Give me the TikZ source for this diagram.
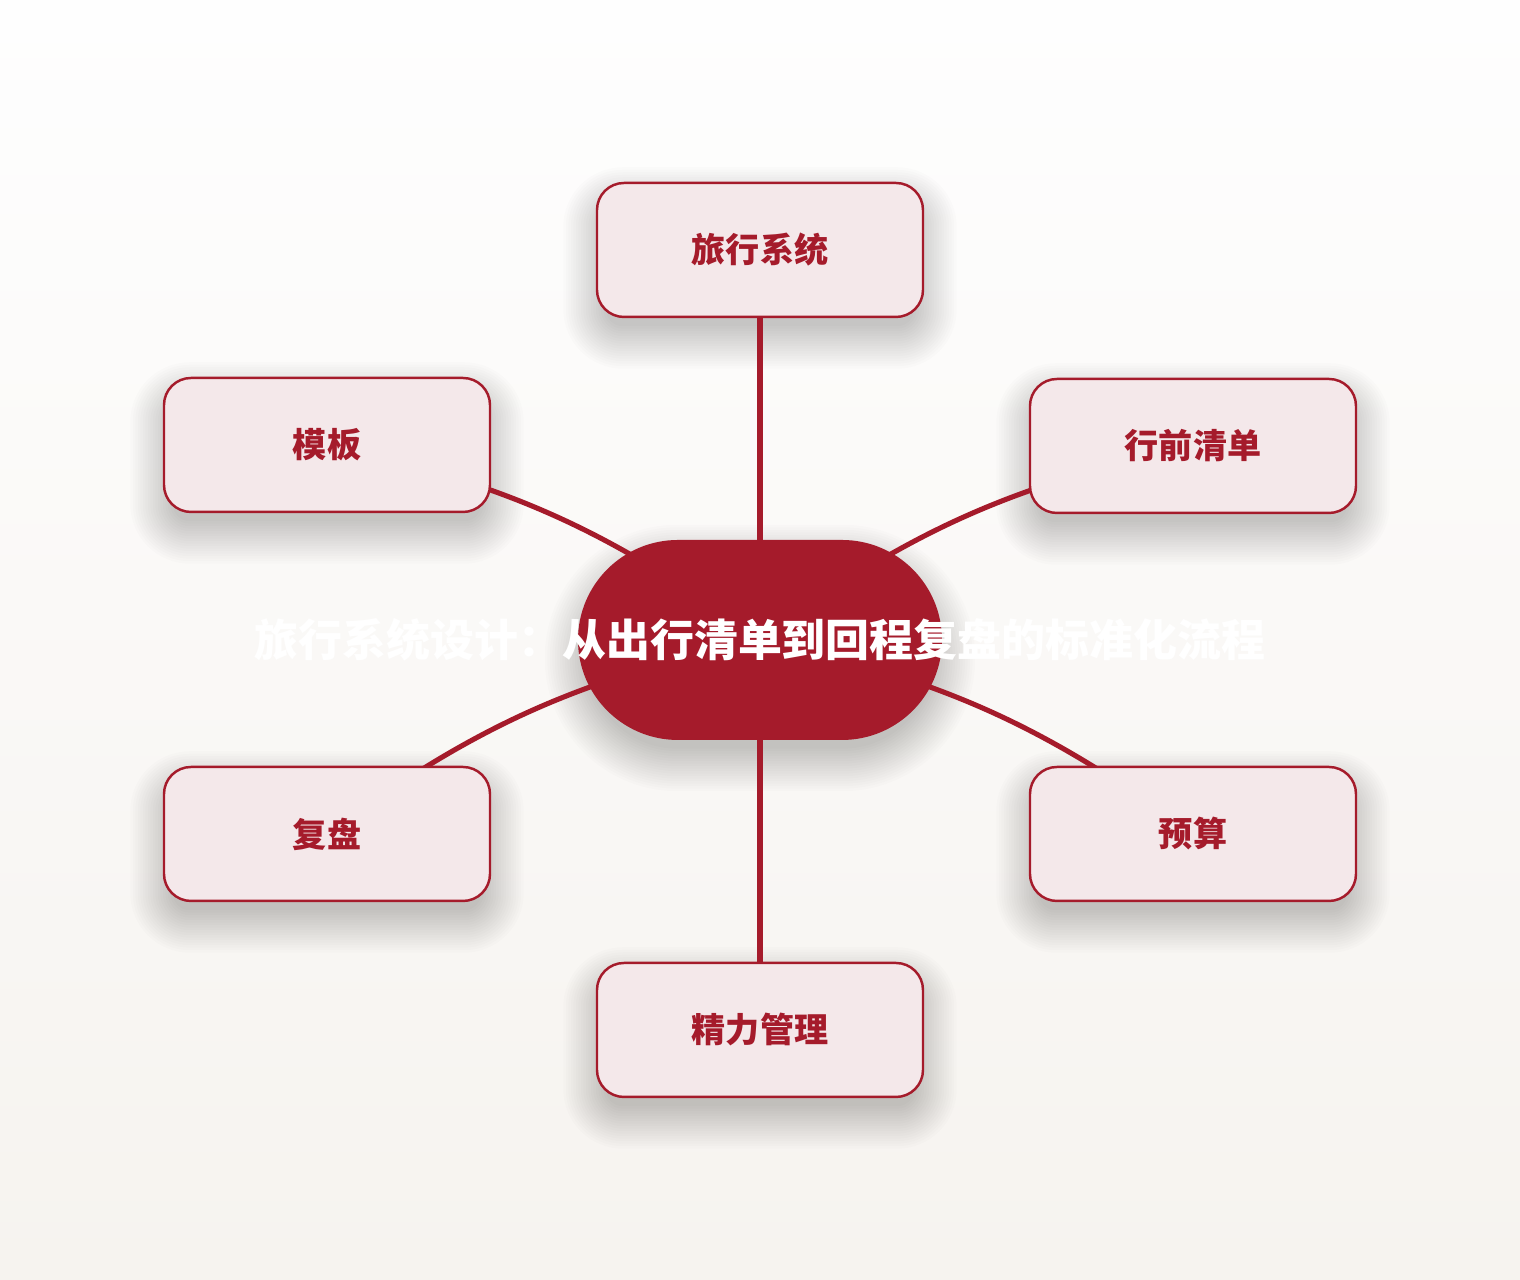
\documentclass[tikz,border=0pt]{standalone}
\usepackage{fontspec}
\newfontfamily\cjk{Noto Sans CJK SC}
\usepackage{tikz}
\usetikzlibrary{calc,positioning}
\definecolor{travelred}{HTML}{A51B2B}
\definecolor{boxfill}{HTML}{F4E8EA}
\definecolor{bgtop}{HTML}{FEFEFE}
\definecolor{bgbottom}{HTML}{F6F3EF}
\pgfdeclarelayer{background}
\pgfdeclarelayer{shadow}
\pgfsetlayers{background,shadow,main}

\begin{document}
\begin{tikzpicture}
      \tikzset{topic/.style = {rounded corners=0.27cm,draw=travelred,line width=0.7pt,fill=boxfill,minimum width=3.26cm,minimum height=1.34cm,font=\cjk\bfseries\fontsize{9.7}{11}\selectfont,text=travelred}}
      \tikzset{hubnode/.style = {rounded corners=1cm,fill=travelred,minimum width=3.64cm,minimum height=2cm}}
      \tikzset{link/.style = {travelred,line width=1.45pt}}

      \begin{pgfonlayer}{background}
        \shade[top color=bgtop,bottom color=bgbottom] (0,0) rectangle (15.2,12.8);
      \end{pgfonlayer}
      \useasboundingbox (0,0) rectangle (15.2,12.8);

      \node (hub) [hubnode] at (7.6,6.4) {};
      \node (title) [font=\cjk\bfseries\fontsize{12.5}{14}\selectfont,text=white] at (hub.center) {旅行系统设计：从出行清单到回程复盘的标准化流程};

      \node (system) [topic] at (7.6,10.3) {旅行系统};
      \node (template) [topic] at (3.27,8.35) {模板};
      \node (checklist) [topic] at (11.93,8.34) {行前清单};
      \node (review) [topic] at (3.27,4.46) {复盘};
      \node (budget) [topic] at (11.93,4.46) {预算};
      \node (energy) [topic] at (7.6,2.5) {精力管理};

      % soft shadows
      \begin{pgfonlayer}{shadow}
        \foreach \n in {system,template,checklist,review,budget,energy}
          \foreach \i in {-4,...,13}
            \fill[black,opacity=0.01,rounded corners=0.27cm+\i*0.25mm]
              ($(\n.south west)+(-\i*0.25mm,-\i*0.25mm-1.8mm)$) rectangle ($(\n.north east)+(\i*0.25mm,\i*0.25mm-1.8mm)$);
        \foreach \i in {-4,...,13}
          \fill[black,opacity=0.01,rounded corners=1cm+\i*0.25mm]
            ($(hub.south west)+(-\i*0.25mm,-\i*0.25mm-1.8mm)$) rectangle ($(hub.north east)+(\i*0.25mm,\i*0.25mm-1.8mm)$);
      \end{pgfonlayer}

      % connectors
      \begin{pgfonlayer}{shadow}
        \draw [link] (hub.center) -- (system.center);
        \draw [link] (hub.center) to[bend right=12] (template.center);
        \draw [link] (hub.center) to[bend left=12] (checklist.center);
        \draw [link] (hub.center) to[bend right=12] (review.center);
        \draw [link] (hub.center) to[bend left=12] (budget.center);
        \draw [link] (hub.center) -- (energy.center);
      \end{pgfonlayer}
\end{tikzpicture}
\end{document}
